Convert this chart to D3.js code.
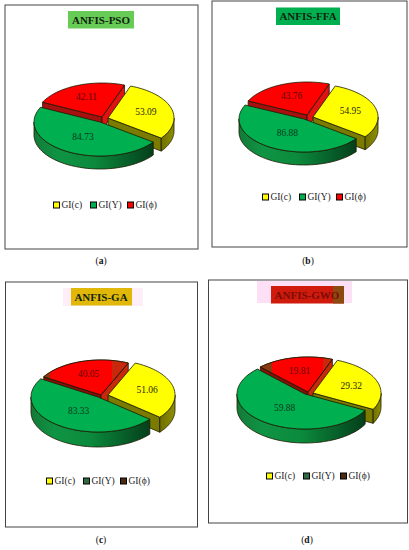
<!DOCTYPE html>
<html><head><meta charset="utf-8">
<script src="https://cdnjs.cloudflare.com/ajax/libs/d3/7.8.5/d3.min.js"></script>
<style>html,body{margin:0;padding:0;background:#fff}svg{display:block}text{font-family:"Liberation Serif",serif;fill:#111}</style>
</head><body><svg id="c" width="409" height="550"></svg>
<script>
const categories = ["GI(c)", "GI(Υ)", "GI(ϕ)"];
const titles = ["ANFIS-PSO", "ANFIS-FFA", "ANFIS-GA", "ANFIS-GWO"];
const captions = ["a", "b", "c", "d"];
const valuesA = [53.09, 84.73, 42.11];
const valuesB = [54.95, 86.88, 43.76];
const valuesC = [51.06, 83.33, 40.05];
const valuesD = [29.32, 59.88, 19.81];
const seriesValues = [valuesA, valuesB, valuesC, valuesD];

// layout only
const layouts = [
 {frame:[5,5,193,244], title:[68,11,66,17.5], titleFill:"#66cc55", cx:102, cy:120, rx:66, ry:34, depth:13, start:20,
  offs:[[6,-2],[-2,2],[0,-3]], legend:[53,205], cap:[101,264], tc:101},
 {frame:[212,1,195,246], title:[276,7.5,64,17.5], titleFill:"#00b050", cx:306, cy:118, rx:65, ry:33, depth:13, start:20,
  offs:[[7,-1],[-2,1],[1,-3]], legend:[262,197], cap:[308,264], tc:308},
 {frame:[5.5,282,192,245], title:[71,288,61,17.5], titleFill:"#e2b808", halo:[63,288,80,18,"#fdeef8"], cx:102, cy:396, rx:67, ry:35, depth:15, start:24,
  offs:[[6,-1],[-4,1],[-1,-1]], legend:[46,481], cap:[101,543], tc:101, dark:true, bright:[50,112]},
 {frame:[208.5,280,199,243], title:[271,286,73,17.5], titleFill:"#cf1a0c", titleEnd:[333,"#8a4a10"], halo:[257,281,95,22,"#fde0f5"], cx:307, cy:393, rx:68, ry:35, depth:14, start:21,
  offs:[[6,0],[-2,1],[1,-1]], legend:[266,476], cap:[307,543], tc:307, dark:true, bright:[272,323]}
];

const svg = d3.select("#c");
const defs = svg.append("defs");
const rad = d => d * Math.PI / 180;
const topCols = ["#ffff00", "#00b050", "#ff0000"];

function grad(id, stops){
  const g = defs.append("linearGradient").attr("id", id);
  stops.forEach(([o,c]) => g.append("stop").attr("offset", o).attr("stop-color", c));
}
grad("gw", [[0,"#137a38"],[.2,"#0f9444"],[.5,"#0b8a3c"],[.78,"#07602a"],[1,"#053f1b"]]);
grad("yw", [[0,"#6f6f00"],[1,"#8f8f00"]]);

const line = d3.line();

seriesValues.forEach((vals, k) => {
  const L = layouts[k];
  const g = svg.append("g");
  g.append("rect").attr("x",L.frame[0]).attr("y",L.frame[1]).attr("width",L.frame[2]).attr("height",L.frame[3])
    .attr("fill","#fff").attr("stroke","#444").attr("stroke-width",1);
  if (L.halo) g.append("rect").attr("x",L.halo[0]).attr("y",L.halo[1]).attr("width",L.halo[2]).attr("height",L.halo[3]).attr("fill",L.halo[4]);
  g.append("rect").attr("x",L.title[0]).attr("y",L.title[1]).attr("width",L.title[2]).attr("height",L.title[3]).attr("fill",L.titleFill);
  if (L.titleEnd) g.append("rect").attr("x",L.titleEnd[0]).attr("y",L.title[1]).attr("width",L.title[0]+L.title[2]-L.titleEnd[0]).attr("height",L.title[3]).attr("fill",L.titleEnd[1]);
  g.append("text").attr("x",L.tc).attr("y",L.title[1]+L.title[3]/2+3.8).attr("text-anchor","middle")
    .attr("font-size",11).attr("font-weight","bold").style("fill", k===3?"#7a0c06":"#10240f").text(titles[k]);

  const pie = d3.pie().sort(null).startAngle(rad(L.start)).endAngle(rad(L.start+360));
  const arcs = pie(vals);
  const x = d3.scaleLinear().domain([-1,1]).range([-L.rx,L.rx]);
  const y = d3.scaleLinear().domain([-1,1]).range([-L.ry,L.ry]);
  const pts = arcs.map((a,i) => {
    const m = (a.startAngle+a.endAngle)/2;
    const ox = L.cx + L.offs[i][0], oy = L.cy + L.offs[i][1];
    return {a, m, at:(t,r=1,d=0)=>[ox + x(r*Math.sin(t)), oy - y(r*Math.cos(t)) + d]};
  });
  const arcPts = (P,a0,a1,d) => d3.range(0,41).map(i => P.at(a0+(a1-a0)*i/40,1,d));
  const poly = (p,fill,sw=.8) => g.append("path").attr("d",line(p)+"Z").attr("fill",fill).attr("stroke","#1a1a00").attr("stroke-width",sw).attr("stroke-linejoin","round");

  const wall = (P,t,fill) => poly([P.at(t,0),P.at(t,1),P.at(t,1,L.depth),P.at(t,0,L.depth)],fill);
  const outer = (P,fill) => {
    const a0 = Math.max(P.a.startAngle, Math.PI/2), a1 = Math.min(P.a.endAngle, 3*Math.PI/2);
    if (a1 > a0) poly([...arcPts(P,a0,a1,0), ...arcPts(P,a1,a0,L.depth)], fill);
  };
  const topPts = P => [P.at(0,0), ...arcPts(P,P.a.startAngle,P.a.endAngle,0)];
  const top = (P,fill) => poly(topPts(P), fill);

  const [Y,G,R] = pts;
  // back to front
  wall(R,R.a.startAngle, L.dark ? "#8a0f08" : "#a80f0f");
  wall(R,R.a.endAngle, L.dark ? "#c8280c" : "#e01212");
  if (L.dark) {
    top(R,"#f00c06");
    const id = "clipR"+k;
    defs.append("clipPath").attr("id",id).append("path").attr("d",line(topPts(R))+"Z");
    const cg = g.append("g").attr("clip-path",`url(#${id})`);
    cg.append("rect").attr("x",L.cx-L.rx-10).attr("y",L.cy-L.ry-10).attr("width",L.bright[0]-(L.cx-L.rx-10)).attr("height",L.ry+20).attr("fill","#8a3a10");
    cg.append("rect").attr("x",L.bright[1]).attr("y",L.cy-L.ry-10).attr("width",40).attr("height",L.ry+20).attr("fill","#c8280c");
    cg.append("rect").attr("x",L.bright[0]).attr("y",L.cy-L.ry-10).attr("width",L.bright[1]-L.bright[0]).attr("height",L.ry+20).attr("fill","#ff0000");
    poly(topPts(R),"none");
  } else top(R,topCols[2]);
  wall(Y,Y.a.endAngle,"#7b7b00");
  outer(Y,"url(#yw)");
  top(Y,topCols[0]);
  outer(G,"url(#gw)");
  top(G,topCols[1]);

  // labels
  const lf = [.6,.5,.62];
  pts.forEach((P,i) => {
    const p = P.at(P.m, lf[i]);
    g.append("text").attr("x",p[0]).attr("y",p[1]+3).attr("text-anchor","middle").attr("font-size",9.5)
      .style("fill", i===2 ? "#5a0a0a" : (i===1 ? "#0a3a1c" : "#2a2a08")).text(d3.format(".2f")(vals[i]));
  });

  // legend
  const sx = d3.scalePoint().domain(categories).range([0,74]);
  const swatch = L.dark ? ["#ffff00","#2f6a44","#4a2a10"] : topCols;
  categories.forEach((c,i) => {
    const lx = L.legend[0]+sx(c);
    g.append("rect").attr("x",lx+.5).attr("y",L.legend[1]-3).attr("width",6).attr("height",6)
      .attr("fill",swatch[i]).attr("stroke","#000").attr("stroke-width",1);
    g.append("text").attr("x",lx+8.5).attr("y",L.legend[1]+3.2).attr("font-size",9.5).style("fill","#222").text(c);
  });

  // caption
  const cap = g.append("text").attr("x",L.cap[0]).attr("y",L.cap[1]).attr("text-anchor","middle").attr("font-size",9.5);
  cap.append("tspan").text("(");
  cap.append("tspan").attr("font-weight","bold").text(captions[k]);
  cap.append("tspan").text(")");
});
</script></body></html>
